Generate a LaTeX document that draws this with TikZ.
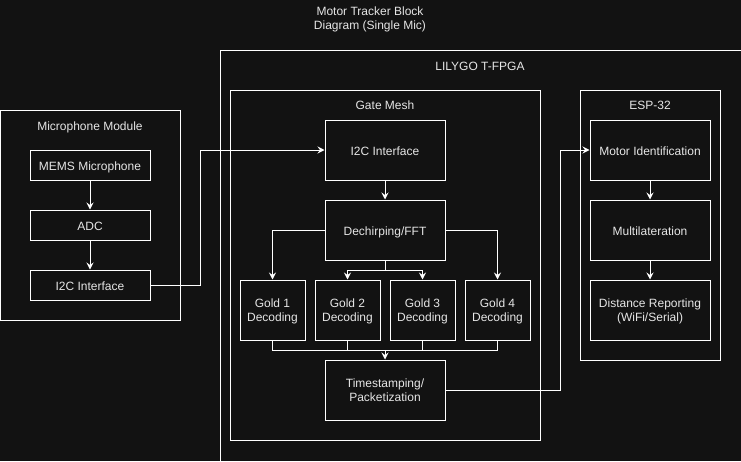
\documentclass[tikz,border=0pt]{standalone}
\usepackage{fontspec}
\setmainfont{Liberation Sans}
\usetikzlibrary{arrows.meta}
\definecolor{bgc}{HTML}{121212}
\definecolor{txt}{HTML}{E6E6E6}
\begin{document}
\begin{tikzpicture}[x=1pt,y=-1pt,
  every node/.style={font=\fontsize{12}{14.5}\selectfont, text=txt, inner sep=0pt, text depth=0pt},
  box/.style={draw=white, line width=1pt, minimum width=120pt, minimum height=60pt, align=center},
  one/.style={text height=11.5pt},
  sbox/.style={box, one, minimum height=30pt},
  gbox/.style={box, minimum width=65pt},
  cont/.style={draw=white, line width=1pt},
  wire/.style={draw=white, line width=1pt},
  arr/.style={wire, -{Stealth[length=7pt,width=7pt,inset=2.5pt]}},
  ttl/.style={align=center}]
\fill[bgc] (0,0) rectangle (741,461);
\useasboundingbox (0,0) rectangle (741,461);
\clip (0,0) rectangle (741,461);
% title
\node[ttl] (title) at (370,18) {Motor Tracker Block\\Diagram (Single Mic)};
% containers
\draw[cont] (0.5,110) rectangle (180,320);
\node (micT) at (90,126) {Microphone Module};
\draw[cont] (220,50) rectangle (745,470);
\node (lilyT) at (480,66) {LILYGO T-FPGA};
\draw[cont] (230,90) rectangle (540,440);
\node (gateT) at (385,105) {Gate Mesh};
\draw[cont] (580,90) rectangle (720,360);
\node (espT) at (650,105) {ESP-32};
% mic module
\node[sbox] (mems) at (90,165) {MEMS Microphone};
\node[sbox] (adc) at (90,225) {ADC};
\node[sbox] (i2cm) at (90,285) {I2C Interface};
% gate mesh
\node[box, one] (i2c) at (385,150) {I2C Interface};
\node[box, one] (dech) at (385,230) {Dechirping/FFT};
\node[gbox] (g1) at (272.5,310) {Gold 1\\Decoding};
\node[gbox] (g2) at (347.5,310) {Gold 2\\Decoding};
\node[gbox] (g3) at (422.5,310) {Gold 3\\Decoding};
\node[gbox] (g4) at (497.5,310) {Gold 4\\Decoding};
\node[box] (ts) at (385,390) {Timestamping/\\Packetization};
% esp
\node[box, one] (mot) at (650,150) {Motor Identification};
\node[box, one] (mul) at (650,230) {Multilateration};
\node[box] (dist) at (650,310) {Distance Reporting\\(WiFi/Serial)};
% coordinates
\coordinate (c1) at (200,285);
\coordinate (c2) at (200,150);
\coordinate (s1) at (385,270);
\coordinate (m) at (385,350);
\coordinate (e1) at (560,390);
\coordinate (e2) at (560,150);
% connectors
\draw[arr] (mems) -- (adc);
\draw[arr] (adc) -- (i2cm);
\draw[arr] (i2cm.east) -- (c1) -- (c2) -- (i2c.west);
\draw[arr] (i2c) -- (dech);
\draw[arr] (dech.west) -| (g1.north);
\draw[arr] (dech.east) -| (g4.north);
\draw[wire] (dech.south) -- (s1);
\draw[arr] (s1) -| (g2.north);
\draw[arr] (s1) -| (g3.north);
\draw[wire] (g1.south) |- (m);
\draw[wire] (g2.south) |- (m);
\draw[wire] (g3.south) |- (m);
\draw[wire] (g4.south) |- (m);
\draw[arr] (m) -- (ts.north);
\draw[arr] (ts.east) -- (e1) -- (e2) -- (mot.west);
\draw[arr] (mot) -- (mul);
\draw[arr] (mul) -- (dist);
\end{tikzpicture}
\end{document}
